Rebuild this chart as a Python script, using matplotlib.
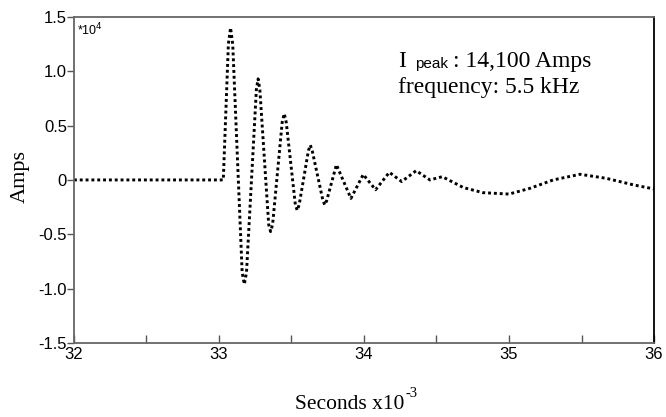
import matplotlib
matplotlib.use("Agg")
import matplotlib.pyplot as plt
from matplotlib.ticker import MultipleLocator, FuncFormatter

# values (amplitude in units of 1e4 A, time in ms)
time_ms = [32.00, 33.03, 33.065, 33.08, 33.095,
           33.16, 33.175, 33.19,
           33.258, 33.27, 33.282,
           33.343, 33.356, 33.37,
           33.436, 33.45, 33.464,
           33.527, 33.54, 33.553,
           33.617, 33.63, 33.643,
           33.717, 33.73, 33.743,
           33.81, 33.91, 33.995, 34.08, 34.175, 34.26, 34.36, 34.455,
           34.54, 34.685, 34.82, 35.00, 35.145, 35.305, 35.49, 35.67,
           35.86, 36.00]
amps_e4 = [0.0, 0.0, 1.25, 1.40, 1.25,
           -0.85, -0.96, -0.85,
           0.83, 0.93, 0.83,
           -0.41, -0.475, -0.41,
           0.53, 0.61, 0.53,
           -0.23, -0.28, -0.23,
           0.27, 0.32, 0.27,
           -0.19, -0.23, -0.19,
           0.14, -0.17, 0.05, -0.09, 0.07, -0.015, 0.085, 0.0,
           0.03, -0.07, -0.117, -0.13, -0.077, 0.0, 0.052, 0.015,
           -0.046, -0.083]

y_ticks = [-1.5, -1.0, -0.5, 0, 0.5, 1.0, 1.5]

fig = plt.figure(figsize=(6.66, 4.17), dpi=100)
ax = fig.add_axes([0.111, 0.1775, 0.871, 0.782])

ax.plot(time_ms, amps_e4, color="black", linewidth=2.1,
        linestyle=(0, (1, 1)), dash_capstyle="butt")

ax.set_xlim(32, 36)
ax.set_ylim(-1.5, 1.5)

ax.set_yticks(y_ticks)
ax.yaxis.set_major_formatter(FuncFormatter(lambda v, p: "0" if v == 0 else f"{v:.1f}"))
ax.xaxis.set_major_locator(MultipleLocator(1))
ax.xaxis.set_minor_locator(MultipleLocator(0.5))
ax.tick_params(axis="y", direction="out", length=5, width=1, colors="#555555",
               labelcolor="black", labelsize=12, pad=0)
ax.tick_params(axis="x", which="both", direction="in", length=6, width=1,
               colors="#555555", labelcolor="black", labelsize=12, pad=3)
for lab in ax.get_xticklabels() + ax.get_yticklabels():
    lab.set_family("Liberation Sans")

for side in ["left", "bottom", "top"]:
    ax.spines[side].set_color("#666666")
    ax.spines[side].set_linewidth(1.3)
ax.spines["right"].set_color("black")
ax.spines["right"].set_linewidth(1.3)

# axis titles
fig.text(20 / 666, 1 - 176 / 417, "Amps", rotation=90, ha="center", va="center",
         family="Liberation Serif", fontsize=16)
xl = fig.text(295 / 666, 1 - 409 / 417, "Seconds x10", ha="left", va="baseline",
              family="Liberation Serif", fontsize=15.5)
fig.canvas.draw()
bb = xl.get_window_extent()
fig.text(bb.x1 / 666 + 0.001, 1 - 397 / 417, "-3", ha="left", va="baseline",
         family="Liberation Serif", fontsize=10.5)

ax.text(0.006, 0.985, "*10$^4$", transform=ax.transAxes, ha="left", va="top",
        family="Liberation Sans", fontsize=9)

# annotation
ax.text(0.559, 0.847, "I", transform=ax.transAxes, va="baseline",
        family="Liberation Serif", fontsize=17)
ax.text(0.588, 0.842, "peak", transform=ax.transAxes, va="baseline",
        family="Liberation Sans", fontsize=11)
ax.text(0.653, 0.847, ": 14,100 Amps", transform=ax.transAxes, va="baseline",
        family="Liberation Serif", fontsize=17)
ax.text(0.559, 0.767, "frequency: 5.5 kHz", transform=ax.transAxes, va="baseline",
        family="Liberation Serif", fontsize=17)

fig.savefig("out.png", dpi=100)
